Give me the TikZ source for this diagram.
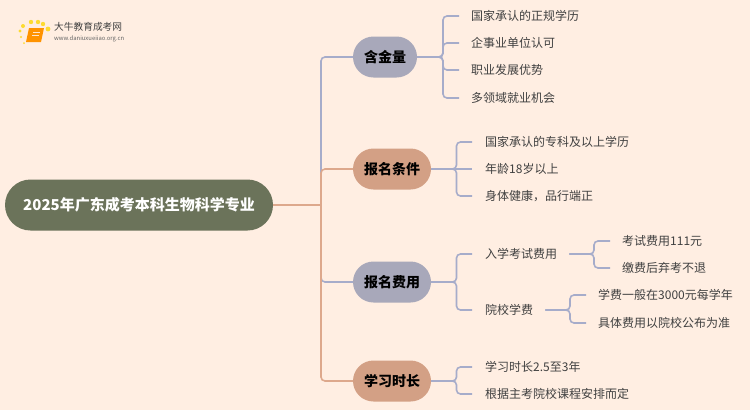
\documentclass[tikz,border=0pt]{standalone}
\usepackage{fontspec}
\setmainfont{Noto Sans CJK SC}
\definecolor{bgc}{HTML}{FFEEE2}
\definecolor{bluel}{HTML}{A6ACCA}
\definecolor{salm}{HTML}{DDA88C}
\definecolor{nblue}{HTML}{A8A8BA}
\definecolor{nsalm}{HTML}{D3A085}
\definecolor{rootc}{HTML}{6B735A}
\definecolor{leaft}{HTML}{404040}
\tikzset{
 rootbox/.style={rounded corners=25.5pt,fill=rootc,text=white,font=\fontsize{15}{18}\selectfont\bfseries,minimum height=51pt,minimum width=268pt,inner sep=0pt},
 mainbox/.style={rounded corners=20.5pt,font=\fontsize{14}{16}\selectfont\bfseries,text=black,minimum height=41pt,inner sep=0pt},
 leaf/.style={anchor=west,font=\fontsize{12}{14}\selectfont,text=leaft,inner sep=0pt},
 conn/.style={line width=1.6pt,rounded corners=4pt,bluel},
 connS/.style={line width=1.6pt,rounded corners=4pt,salm},
}
\begin{document}
\begin{tikzpicture}[x=1pt,y=-1pt]
\path[fill=bgc] (0,0) rectangle (750,410);
\useasboundingbox (0,0) rectangle (750,410);
% logo
\foreach \a/\b/\r in {21/37/1.2,20/31/1.6,23/26/2,31/22/2.2,38/22/2.2,43/24/2.2,48/29/2.4,24/43/1}{\fill[yellow!75!orange,opacity=.8] (\a,\b) circle (\r);}
\fill[orange!85!yellow] (29,28) -- (44,28) -- (41,42) -- (26,42) -- cycle;
\draw[white!80!orange,line width=.6pt] (33,32) -- (40,32) (32,35) -- (39,35);
\node[anchor=west,inner sep=0pt,font=\fontsize{9.7}{11}\selectfont,text=black!75] (logot) at (54,27) {大牛教育成考网};
\node[anchor=west,inner sep=0pt,font=\fontsize{5.9}{8}\selectfont,text=black!60] (logou) at (54,39) {www.daniuxueiiao.org.cn};
% nodes
\node[rootbox] (root) at (139,205) {2025年广东成考本科生物科学专业};
\node[mainbox,fill=nblue,minimum width=64pt] (m1) at (385,57) {含金量};
\node[mainbox,fill=nsalm,minimum width=78pt] (m2) at (392,169) {报名条件};
\node[mainbox,fill=nblue,minimum width=78pt] (m3) at (392,282) {报名费用};
\node[mainbox,fill=nsalm,minimum width=78pt] (m4) at (392,381) {学习时长};
\node[leaf] (a1) at (471,16) {国家承认的正规学历};
\node[leaf] (a2) at (471,43) {企事业单位认可};
\node[leaf] (a3) at (471,70) {职业发展优势};
\node[leaf] (a4) at (471,98) {多领域就业机会};
\node[leaf] (b1) at (485,142) {国家承认的专科及以上学历};
\node[leaf] (b2) at (485,169) {年龄18岁以上};
\node[leaf] (b3) at (485,196) {身体健康，品行端正};
\node[leaf] (c1) at (485,254) {入学考试费用};
\node[leaf] (c2) at (485,310) {院校学费};
\node[leaf] (d1) at (485,367) {学习时长2.5至3年};
\node[leaf] (d2) at (485,394) {根据主考院校课程安排而定};
\node[leaf] (e1) at (622,241) {考试费用111元};
\node[leaf] (e2) at (622,268) {缴费后弃考不退};
\node[leaf] (f1) at (598,295) {学费一般在3000元每学年};
\node[leaf] (f2) at (598,323) {具体费用以院校公布为准};
% root connectors
\coordinate (sp) at (321,205);
\draw[conn] (sp) -- (321,57) -- (m1.west);
\draw[conn] (sp) -- (321,282) -- (m3.west);
\draw[connS] (root.east) -- (sp);
\draw[connS] (sp) -- (321,169) -- (m2.west);
\draw[connS] (sp) -- (321,381) -- (m4.west);
% level 2
\foreach \t in {a1,a2,a3,a4}{\draw[conn] (m1.east) -- (443,57) -- (443,0 |- \t.west) -- ([xshift=-12pt]\t.west);}
\foreach \t in {b1,b3}{\draw[conn] (m2.east) -- (456.5,169) -- (456.5,0 |- \t.west) -- ([xshift=-13pt]\t.west);}
\draw[conn] (m2.east) -- ([xshift=-13pt]b2.west);
\foreach \t in {c1,c2}{\draw[conn] (m3.east) -- (456.5,282) -- (456.5,0 |- \t.west) -- ([xshift=-13pt]\t.west);}
\foreach \t in {d1,d2}{\draw[conn] (m4.east) -- (456.5,381) -- (456.5,0 |- \t.west) -- ([xshift=-13pt]\t.west);}
\foreach \t in {e1,e2}{\draw[conn] ([xshift=12pt]c1.east) -- (594,254) -- (594,0 |- \t.west) -- ([xshift=-12pt]\t.west);}
\foreach \t in {f1,f2}{\draw[conn] ([xshift=12pt]c2.east) -- (570,310) -- (570,0 |- \t.west) -- ([xshift=-12pt]\t.west);}
\end{tikzpicture}
\end{document}
